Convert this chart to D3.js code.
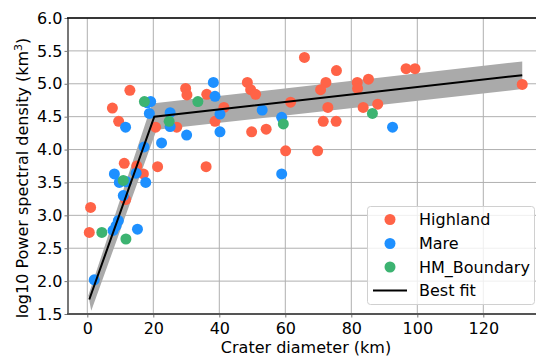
<!DOCTYPE html>
<html><head><meta charset="utf-8">
<script src="https://cdn.jsdelivr.net/npm/d3@7"></script>
<style>body{margin:0;background:#fff}svg{display:block}text{font-family:"DejaVu Sans",sans-serif}</style>
</head><body><svg id="c" width="536" height="356"></svg>
<script>
// Data (crater diameter km, log10 PSD)
const highlandX = [12.9,7.6,9.5,20.7,27.1,29.8,30.2,36.2,41.4,38.7,11.2,15.0,21.3,36.0,17.0,11.6,1.0,0.6,48.5,49.5,51.0,49.8,54.2,61.6,65.8,60.1,69.8,72.3,70.7,75.5,72.9,71.5,75.4,81.8,81.9,85.2,83.6,88.0,96.6,99.3,131.8];
const highlandY = [4.90,4.63,4.43,4.34,4.34,4.93,4.83,4.84,4.64,4.43,3.79,3.75,3.74,3.74,3.63,3.24,3.12,2.74,5.02,4.91,4.84,4.27,4.31,4.72,5.40,3.98,3.98,5.02,4.91,5.20,4.64,4.43,4.43,5.02,4.93,5.07,4.64,4.69,5.23,5.23,4.99];
const mareX = [11.6,18.2,19.2,18.8,25.1,25.1,22.5,17.2,30.1,38.2,38.7,40.2,40.2,53.0,58.9,92.5,8.2,14.8,9.7,11.9,17.7,10.9,9.4,8.7,7.8,15.2,2.1,58.9];
const mareY = [4.34,4.71,4.73,4.55,4.56,4.35,4.10,4.04,4.22,5.02,4.81,4.54,4.27,4.60,4.49,4.34,3.63,3.64,3.50,3.51,3.50,3.30,2.92,2.84,2.77,2.79,2.02,3.63];
const boundaryX = [17.3,24.8,33.5,59.4,86.4,10.9,4.4,11.7];
const boundaryY = [4.73,4.43,4.73,4.39,4.55,3.53,2.74,2.64];
const fitX = [0.6,20.3,131.8];
const fitY = [1.72,4.50,5.13];
const bandUpperX = [0.3,19.6,131.8];
const bandUpperY = [1.78,4.70,5.34];
const bandLowerX = [1.2,21.0,131.8];
const bandLowerY = [1.55,4.30,4.92];
const xTicks = [0,20,40,60,80,100,120];
const yTicks = [1.5,2.0,2.5,3.0,3.5,4.0,4.5,5.0,5.5,6.0];
const seriesNames = ["Highland","Mare","HM_Boundary"];
const seriesColors = ["#ff6347","#1e90ff","#3cb371"];

const svg = d3.select("#c");
const L=68, R=536, T=18, B=314;
const FS = "16px";
const x = d3.scaleLinear().domain([-5.85,135.97]).range([L,R]);
const y = d3.scaleLinear().domain([1.5,6.0]).range([B,T]);

// grid
const g = svg.append("g");
g.selectAll(".gx").data(xTicks).join("line").attr("x1",d=>x(d)).attr("x2",d=>x(d)).attr("y1",T).attr("y2",B).attr("stroke","#b0b0b0").attr("stroke-width",1);
g.selectAll(".gy").data(yTicks).join("line").attr("x1",L).attr("x2",R).attr("y1",d=>y(d)).attr("y2",d=>y(d)).attr("stroke","#b0b0b0").attr("stroke-width",1);

// band
const bandPts = bandUpperX.map((v,i)=>[x(v),y(bandUpperY[i])]).concat(bandLowerX.map((v,i)=>[x(v),y(bandLowerY[i])]).reverse());
svg.append("path").attr("d",d3.line()(bandPts)+"Z").attr("fill","#aaaaaa").attr("stroke","none");

// points
const series = [[highlandX,highlandY],[mareX,mareY],[boundaryX,boundaryY]];
series.forEach((s,k)=>{
  svg.append("g").selectAll("circle").data(s[0].map((v,i)=>[v,s[1][i]])).join("circle")
    .attr("cx",d=>x(d[0])).attr("cy",d=>y(d[1])).attr("r",5.5).attr("fill",seriesColors[k]);
});

// fit line
svg.append("path").attr("d",d3.line().x((d,i)=>x(d)).y((d,i)=>y(fitY[i]))(fitX)).attr("fill","none").attr("stroke","#000").attr("stroke-width",2);

// axes
const xa = svg.append("g").attr("transform",`translate(0,${B})`).call(d3.axisBottom(x).tickValues(xTicks).tickFormat(d3.format("d")).tickSize(3.5).tickPadding(5.5));
const ya = svg.append("g").attr("transform",`translate(${L},0)`).call(d3.axisLeft(y).tickValues(yTicks).tickFormat(d3.format(".1f")).tickSize(3.5).tickPadding(2));
[xa,ya].forEach(a=>{
  a.select(".domain").remove();
  a.selectAll(".tick line").attr("stroke","#777").attr("stroke-width",1);
  a.selectAll(".tick text").attr("fill","#000").style("font-size",FS).style("font-family","DejaVu Sans");
});
svg.append("line").attr("x1",L).attr("x2",L).attr("y1",T).attr("y2",B+1).attr("stroke","#777").attr("stroke-width",2);
svg.append("line").attr("x1",L-1).attr("x2",R).attr("y1",B).attr("y2",B).attr("stroke","#555").attr("stroke-width",2);
svg.append("line").attr("x1",L-1).attr("x2",R).attr("y1",T).attr("y2",T).attr("stroke","#000").attr("stroke-width",1.5);

// labels
svg.append("text").attr("x",306).attr("y",353).attr("text-anchor","middle").style("font-size",FS).text("Crater diameter (km)");
const yl = svg.append("text").attr("transform",`translate(28,178) rotate(-90)`).attr("text-anchor","middle").style("font-size",FS);
yl.append("tspan").text("log10 Power spectral density (km");
yl.append("tspan").attr("dy",-6).style("font-size","11px").text("3");
yl.append("tspan").attr("dy",6).text(")");

// legend
const lg = svg.append("g");
lg.append("rect").attr("x",367.5).attr("y",206.5).attr("width",167).attr("height",98).attr("rx",3).attr("fill","#fff").attr("fill-opacity",0.8).attr("stroke","#d0d0d0");
const ly = [219.5,243.5,267,290.5];
seriesNames.forEach((n,i)=>{
  lg.append("circle").attr("cx",390).attr("cy",ly[i]).attr("r",5.5).attr("fill",seriesColors[i]);
  lg.append("text").attr("x",419).attr("y",ly[i]+5.5).style("font-size",FS).text(n);
});
lg.append("line").attr("x1",373).attr("x2",407).attr("y1",ly[3]).attr("y2",ly[3]).attr("stroke","#000").attr("stroke-width",2);
lg.append("text").attr("x",419).attr("y",ly[3]+5.5).style("font-size",FS).text("Best fit");
</script></body></html>
